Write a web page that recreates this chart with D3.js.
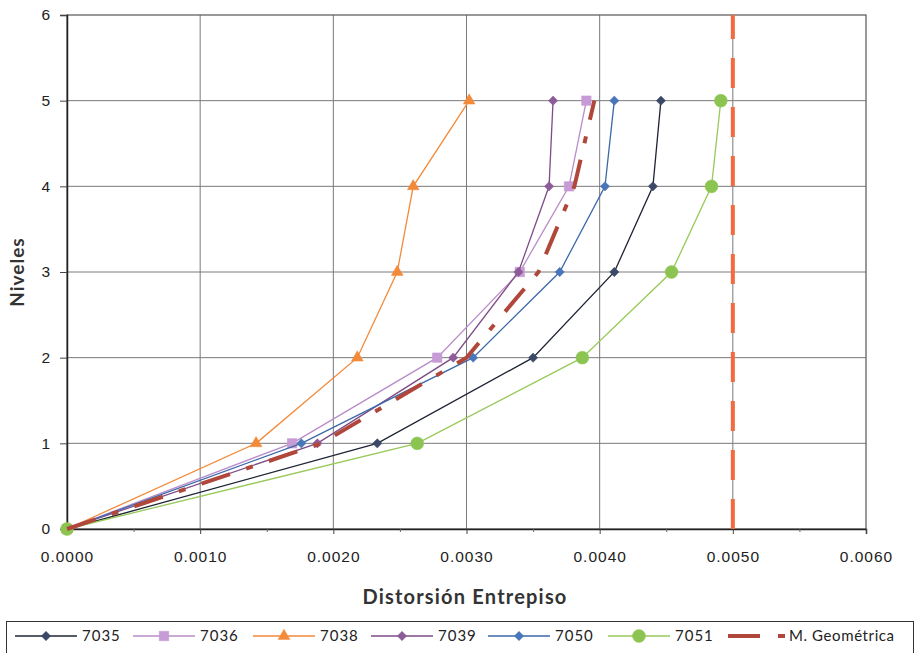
<!DOCTYPE html>
<html>
<head>
<meta charset="utf-8">
<script src="https://cdn.jsdelivr.net/npm/d3@7"></script>
<style>
  html, body { margin: 0; padding: 0; background: #fff; }
  svg { display: block; font-family: Lato, "Open Sans", sans-serif; }
</style>
</head>
<body>
<svg id="chart" width="920" height="653"></svg>
<script>
// Storey levels (0 = base) and drift values per record
const levels = [0, 1, 2, 3, 4, 5];
const s7035 = [0, 0.00233, 0.00350, 0.00411, 0.00440, 0.00446];
const s7036 = [0, 0.00169, 0.00278, 0.00340, 0.00377, 0.00390];
const s7038 = [0, 0.00142, 0.00218, 0.00248, 0.00260, 0.00302];
const s7039 = [0, 0.00188, 0.00290, 0.00339, 0.00362, 0.00365];
const s7050 = [0, 0.00176, 0.00305, 0.00370, 0.00404, 0.00411];
const s7051 = [0, 0.00263, 0.00387, 0.00454, 0.00484, 0.00491];
const geoMean = [0, 0.00191, 0.00300, 0.00354, 0.00381, 0.00396];
// Drift limit line
const limitDrift = 0.005;
const limitLevels = [0, 6];

const xTicks = [0, 0.001, 0.002, 0.003, 0.004, 0.005, 0.006];
const xMinorTicks = [0.0005, 0.0015, 0.0025, 0.0035, 0.0045, 0.0055];
const yTicks = [0, 1, 2, 3, 4, 5, 6];

const diamond = d3.symbolDiamond2 || d3.symbolDiamond;
const series = [
  { name: "7035", values: s7035, line: "#1e2433", fill: "#3b4867", symbol: diamond, size: 55 },
  { name: "7036", values: s7036, line: "#b88cc9", fill: "#c69bd6", symbol: d3.symbolSquare, size: 90 },
  { name: "7038", values: s7038, line: "#f28a3a", fill: "#f28a3a", symbol: d3.symbolTriangle, size: 60 },
  { name: "7039", values: s7039, line: "#7d4b86", fill: "#8c5b98", symbol: diamond, size: 55 },
  { name: "7050", values: s7050, line: "#3b68a8", fill: "#4876b8", symbol: diamond, size: 55 },
  { name: "7051", values: s7051, line: "#98c95a", fill: "#8cc451", symbol: d3.symbolCircle, size: 130 }
];

const svg = d3.select("#chart");
const x = d3.scaleLinear().domain([0, 0.006]).range([67, 866]);
const y = d3.scaleLinear().domain([0, 6]).range([529, 15]);

// Gridlines
const grid = svg.append("g");
grid.selectAll("line.v").data(xTicks.slice(1, -1)).join("line")
  .attr("x1", d => x(d)).attr("x2", d => x(d))
  .attr("y1", y(6)).attr("y2", y(0))
  .attr("stroke", "#7a7a7a").attr("stroke-width", 1);
grid.selectAll("line.h").data(yTicks.slice(1, -1)).join("line")
  .attr("x1", x(0)).attr("x2", x(0.006))
  .attr("y1", d => y(d)).attr("y2", d => y(d))
  .attr("stroke", "#7a7a7a").attr("stroke-width", 1);

// Plot frame
svg.append("rect")
  .attr("x", x(0)).attr("y", y(6))
  .attr("width", x(0.006) - x(0)).attr("height", y(0) - y(6))
  .attr("fill", "none").attr("stroke", "#555").attr("stroke-width", 1.2);

// Axes
const xAxis = d3.axisBottom(x).tickValues(xTicks).tickFormat(d3.format(".4f")).tickSize(5).tickPadding(17);
const gx = svg.append("g").attr("transform", `translate(0,${y(0)})`).call(xAxis);
gx.select(".domain").attr("stroke", "#222").attr("stroke-width", 1.5);
gx.selectAll(".tick line").attr("stroke", "#444");
gx.selectAll("text").attr("font-size", 15.5).attr("letter-spacing", 1).attr("fill", "#222");

const xMinor = d3.axisBottom(x).tickValues(xMinorTicks).tickSize(3).tickFormat("");
const gxm = svg.append("g").attr("transform", `translate(0,${y(0)})`).call(xMinor);
gxm.select(".domain").remove();
gxm.selectAll(".tick line").attr("stroke", "#666");

const yAxis = d3.axisLeft(y).tickValues(yTicks).tickFormat(d3.format("d")).tickSize(7).tickPadding(10);
const gy = svg.append("g").attr("transform", `translate(${x(0)},0)`).call(yAxis);
gy.select(".domain").attr("stroke", "#222").attr("stroke-width", 1.5);
gy.selectAll(".tick line").attr("stroke", "#444");
gy.selectAll("text").attr("font-size", 15.5).attr("fill", "#222");

// Axis titles
svg.append("text").attr("x", 465).attr("y", 604).attr("text-anchor", "middle")
  .attr("font-size", 20).attr("font-weight", "bold").attr("letter-spacing", 1.2).attr("fill", "#333")
  .text("Distorsión Entrepiso");
svg.append("text").attr("transform", "translate(24,272) rotate(-90)").attr("text-anchor", "middle")
  .attr("font-size", 19).attr("font-weight", "bold").attr("letter-spacing", 1).attr("fill", "#333")
  .text("Niveles");

const lineGen = d3.line().x(d => x(d[0])).y(d => y(d[1]));

// Record series
const plot = svg.append("g");
series.forEach(s => {
  const pts = s.values.map((v, i) => [v, levels[i]]);
  plot.append("path").datum(pts).attr("d", lineGen)
    .attr("fill", "none").attr("stroke", s.line).attr("stroke-width", 1.3);
  plot.selectAll(null).data(pts).join("path")
    .attr("transform", d => `translate(${x(d[0])},${y(d[1])})`)
    .attr("d", d3.symbol().type(s.symbol).size(s.size))
    .attr("fill", s.fill).attr("stroke", s.fill).attr("stroke-width", 0.5);
});

// Geometric mean
plot.append("path").datum(geoMean.map((v, i) => [v, levels[i]])).attr("d", lineGen)
  .attr("fill", "none").attr("stroke", "#b0473a").attr("stroke-width", 4)
  .attr("stroke-dasharray", "30,17,7,17");

// Drift limit
plot.append("path").datum(limitLevels.slice().reverse().map(l => [limitDrift, l])).attr("d", lineGen)
  .attr("fill", "none").attr("stroke", "#f26a3d").attr("stroke-width", 4)
  .attr("stroke-dasharray", "30,19").attr("stroke-dashoffset", 6);

// Legend
const lg = svg.append("g");
lg.append("rect").attr("x", 6.5).attr("y", 621.5).attr("width", 907).attr("height", 34)
  .attr("fill", "#fff").attr("stroke", "#333").attr("stroke-width", 1);
const legendX = [15, 133, 253, 371, 488, 608];
const legendY = 636;
series.forEach((s, i) => {
  const x0 = legendX[i];
  lg.append("line").attr("x1", x0).attr("x2", x0 + 62).attr("y1", legendY).attr("y2", legendY)
    .attr("stroke", s.line).attr("stroke-width", 1.3);
  lg.append("path").attr("transform", `translate(${x0 + 31},${legendY})`)
    .attr("d", d3.symbol().type(s.symbol).size(s.size))
    .attr("fill", s.fill).attr("stroke", s.fill).attr("stroke-width", 0.5);
  lg.append("text").attr("x", x0 + 67).attr("y", legendY + 5)
    .attr("font-size", 15).attr("letter-spacing", 1).attr("fill", "#222").text(s.name);
});
lg.append("line").attr("x1", 728).attr("x2", 785).attr("y1", legendY).attr("y2", legendY)
  .attr("stroke", "#b0473a").attr("stroke-width", 4).attr("stroke-dasharray", "32,18,7,18");
lg.append("text").attr("x", 789).attr("y", legendY + 5)
  .attr("font-size", 15).attr("letter-spacing", 0.6).attr("fill", "#222").text("M. Geométrica");
</script>
</body>
</html>
